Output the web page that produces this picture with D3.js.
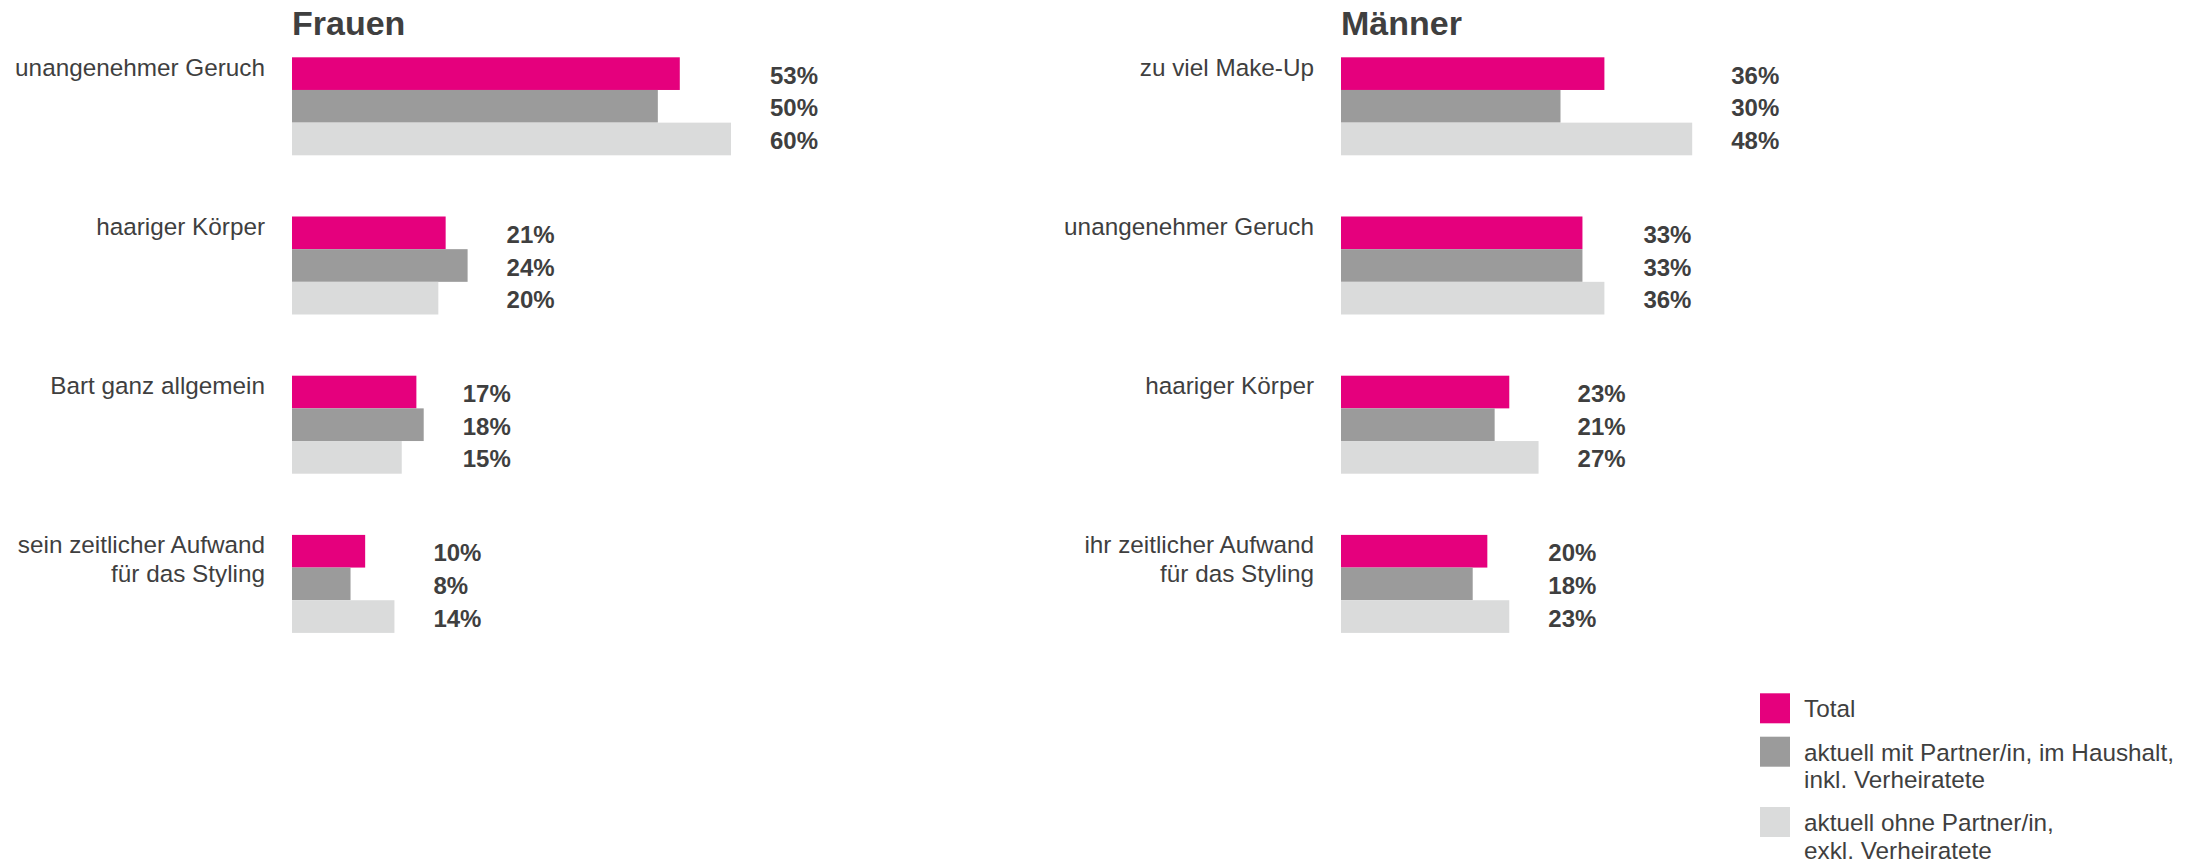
<!DOCTYPE html>
<html>
<head>
<meta charset="utf-8">
<script src="https://cdn.jsdelivr.net/npm/d3@7"></script>
<style>
  body { margin: 0; background: #fff; }
  text { font-family: Arial, "Liberation Sans", sans-serif; fill: #3f3f3f; }
</style>
</head>
<body>
<div id="vis"></div>
<script>
// Datos
const series = ["total", "mit", "ohne"];
const legendLabels = [
  ["Total"],
  ["aktuell mit Partner/in, im Haushalt,", "inkl. Verheiratete"],
  ["aktuell ohne Partner/in,", "exkl. Verheiratete"]
];
const colors = ["#e5007d", "#9b9b9b", "#dadbdb"];

const frauenCats = ["unangenehmer Geruch", "haariger Körper", "Bart ganz allgemein", "sein zeitlicher Aufwand\nfür das Styling"];
const frauenTotal = [53, 21, 17, 10];
const frauenMit = [50, 24, 18, 8];
const frauenOhne = [60, 20, 15, 14];

const maennerCats = ["zu viel Make-Up", "unangenehmer Geruch", "haariger Körper", "ihr zeitlicher Aufwand\nfür das Styling"];
const maennerTotal = [36, 33, 23, 20];
const maennerMit = [30, 33, 21, 18];
const maennerOhne = [48, 36, 27, 23];

const WIDTH = 2199;
const HEIGHT = 863;
const SVG = d3.select("#vis").append("svg").attr("width", WIDTH).attr("height", HEIGHT);

// escala horizontal común (px por %)
const escala_x = d3.scaleLinear().domain([0, 60]).range([0, 439]);

function panel(title, cats, total, mit, ohne, x0, labelRight) {
  const data = cats.map((c, i) => ({ cat: c, values: [total[i], mit[i], ohne[i]] }));

  const escala_y = d3.scaleBand()
    .domain(cats)
    .range([57.3, 632.9])
    .paddingInner(0.3844)
    .paddingOuter(0);

  const escala_serie = d3.scaleBand()
    .domain(series)
    .range([0, escala_y.bandwidth()]);

  const g = SVG.append("g");

  g.append("text")
    .attr("x", x0)
    .attr("y", 35)
    .attr("font-size", 34)
    .attr("font-weight", "bold")
    .text(title);

  const grupos = g.selectAll("g.grupo")
    .data(data)
    .join("g")
    .attr("class", "grupo")
    .attr("transform", d => `translate(0,${escala_y(d.cat)})`);

  grupos.selectAll("rect")
    .data(d => d.values)
    .join("rect")
    .attr("x", x0)
    .attr("y", (v, i) => escala_serie(series[i]))
    .attr("width", v => escala_x(v))
    .attr("height", escala_serie.bandwidth())
    .attr("fill", (v, i) => colors[i]);

  grupos.selectAll("text.valor")
    .data(d => d.values.map(v => ({ v, max: d3.max(d.values) })))
    .join("text")
    .attr("class", "valor")
    .attr("x", d => x0 + escala_x(d.max) + 39)
    .attr("y", (d, i) => escala_serie(series[i]) + escala_serie.bandwidth() / 2)
    .attr("dy", "0.42em")
    .attr("font-size", 24)
    .attr("font-weight", "bold")
    .text(d => d.v + "%");

  // etiquetas de categoría
  const etiquetas = grupos.append("text")
    .attr("text-anchor", "end")
    .attr("font-size", 24.3)
    .attr("y", 18.5);
  etiquetas.selectAll("tspan")
    .data(d => d.cat.split("\n"))
    .join("tspan")
    .attr("x", labelRight)
    .attr("dy", (l, i) => i === 0 ? 0 : 29)
    .text(l => l);
}

panel("Frauen", frauenCats, frauenTotal, frauenMit, frauenOhne, 292, 265);
panel("Männer", maennerCats, maennerTotal, maennerMit, maennerOhne, 1341, 1314);

// Leyenda
const legendY = [693.3, 736.7, 807];
const leyenda = SVG.append("g").selectAll("g")
  .data(legendLabels)
  .join("g")
  .attr("transform", (d, i) => `translate(1760,${legendY[i]})`);

leyenda.append("rect")
  .attr("width", 30)
  .attr("height", 30)
  .attr("fill", (d, i) => colors[i]);

const ltext = leyenda.append("text")
  .attr("font-size", 24.3)
  .attr("y", 24);
ltext.selectAll("tspan")
  .data(d => d)
  .join("tspan")
  .attr("x", 44)
  .attr("dy", (l, i) => i === 0 ? 0 : 27.5)
  .text(l => l);
</script>
</body>
</html>
